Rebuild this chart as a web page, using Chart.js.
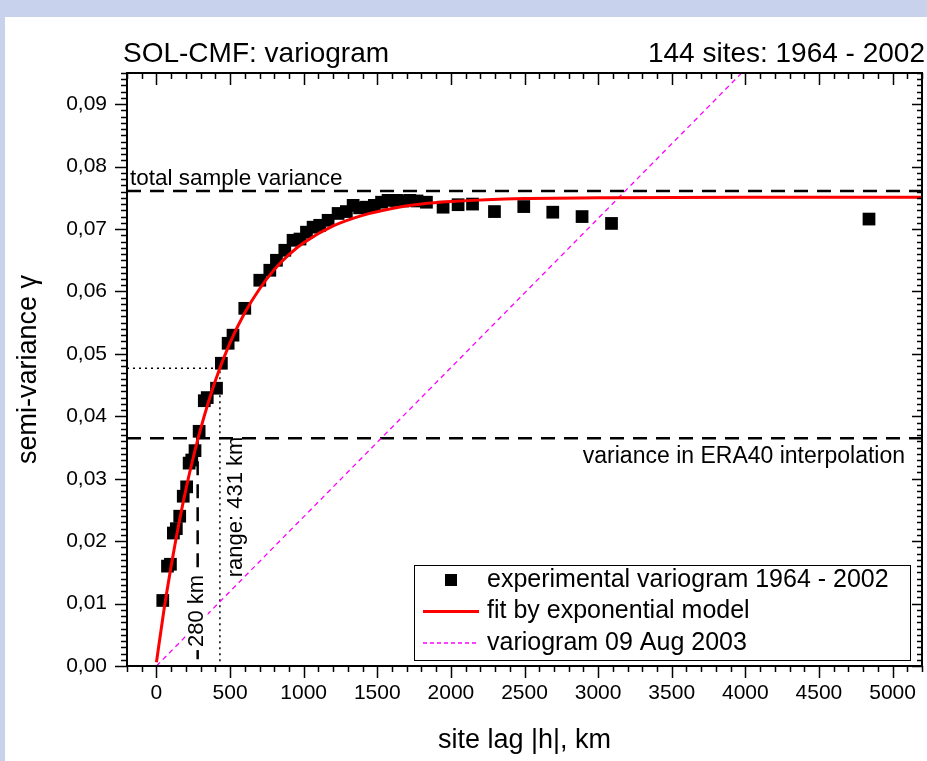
<!DOCTYPE html>
<html>
<head>
<meta charset="utf-8">
<script src="https://cdn.jsdelivr.net/npm/chart.js@4/dist/chart.umd.min.js"></script>
<style>
  html, body { margin: 0; padding: 0; background: #fff; }
</style>
</head>
<body>
<canvas id="myChart" width="927" height="761"></canvas>
<script>
// experimental variogram 1964 - 2002 (lag in km, semi-variance)
const lagKm = [43, 75, 95, 115, 135, 158, 182, 205, 222, 240, 262, 290, 325, 345, 408, 441, 487, 520, 600,
  702, 770, 815, 872, 928, 975, 1019, 1064, 1109, 1166, 1234, 1290, 1336, 1380, 1427, 1480, 1529, 1573,
  1630, 1675, 1721, 1770, 1834, 1947, 2049, 2147, 2296, 2495, 2692, 2891, 3091, 4840];
const gammaExp = [0.0105, 0.0160, 0.0163, 0.0213, 0.0220, 0.0240, 0.0272, 0.0287, 0.0325, 0.0330, 0.0345, 0.0376,
  0.0425, 0.0430, 0.0445, 0.0485, 0.0517, 0.0530, 0.0573, 0.0618, 0.0634, 0.0650, 0.0666, 0.0682, 0.0684,
  0.0695, 0.0703, 0.0706, 0.0714, 0.0725, 0.0728, 0.0738, 0.0734, 0.0735, 0.0738, 0.0743, 0.0746, 0.0746,
  0.0745, 0.0746, 0.0745, 0.0743, 0.0735, 0.0739, 0.0740, 0.0728, 0.0736, 0.0727, 0.0720, 0.0709, 0.0716];

// fit by exponential model
const fitKm = [0, 50, 100, 150, 200, 250, 300, 400, 500, 600, 700, 800, 900, 1000, 1200, 1400, 1600, 1800,
  2000, 2500, 3000, 4000, 5200];
const fitGamma = [0.0006, 0.0088, 0.0160, 0.0225, 0.0283, 0.0334, 0.0380, 0.0457, 0.0518, 0.0566, 0.0604,
  0.0635, 0.0659, 0.0678, 0.0705, 0.0722, 0.0733, 0.0740, 0.0744, 0.0749, 0.0750, 0.0751, 0.0751];

// variogram 09 Aug 2003
const augKm = [0, 4000];
const augGamma = [0, 0.0956];

const totalVariance = 0.0761;
const era40Variance = 0.0365;
const rangeKm = 431;
const rangeGamma = 0.0477;
const era40Km = 280;

const xTicks = [0, 500, 1000, 1500, 2000, 2500, 3000, 3500, 4000, 4500, 5000];
const yTicks = [0, 0.01, 0.02, 0.03, 0.04, 0.05, 0.06, 0.07, 0.08, 0.09];
const xMin = -200, xMax = 5200, yMin = 0, yMax = 0.095;

const FONT = '"Liberation Sans", Arial, sans-serif';
const pts = (xs, ys) => xs.map((v, i) => ({ x: v, y: ys[i] }));

const legendItems = [
  { text: 'experimental variogram 1964 - 2002', kind: 'square' },
  { text: 'fit by exponential model', kind: 'red' },
  { text: 'variogram 09 Aug 2003', kind: 'magenta' }
];

const frame = {
  id: 'frame',
  beforeDraw(chart) {
    const c = chart.ctx;
    c.save();
    c.fillStyle = '#c9d2ec';
    c.fillRect(0, 0, chart.width, chart.height);
    c.fillStyle = '#ffffff';
    c.fillRect(5, 17, chart.width - 5, chart.height - 17);
    c.restore();
  },
  afterDatasetsDraw(chart) {
    const { ctx: c, chartArea: a, scales: { x, y } } = chart;
    c.save();
    c.strokeStyle = '#000';

    // minor / major ticks on all four sides
    c.lineWidth = 1.5;
    for (let v = xMin; v <= xMax; v += 100) {
      const px = Math.round(x.getPixelForValue(v)) + 0.5;
      const major = v % 500 === 0;
      c.beginPath();
      c.moveTo(px, a.bottom); c.lineTo(px, a.bottom + (major ? 12 : 6));
      c.moveTo(px, a.top); c.lineTo(px, a.top + (major ? 12 : 6));
      c.stroke();
    }
    for (let i = 0; i <= 95; i++) {
      const py = Math.round(y.getPixelForValue(i / 1000)) + 0.5;
      const major = i % 10 === 0;
      c.beginPath();
      c.moveTo(a.left, py); c.lineTo(a.left - (major ? 12 : 6), py);
      c.moveTo(a.right, py); c.lineTo(a.right - (major ? 10 : 5), py);
      c.stroke();
    }
    c.lineWidth = 2;
    c.strokeRect(a.left, a.top, a.right - a.left, a.bottom - a.top);

    // titles
    c.fillStyle = '#000';
    c.textBaseline = 'middle';
    c.font = '28px ' + FONT;
    c.textAlign = 'left';
    c.fillText('SOL-CMF: variogram', 123, 54);
    c.textAlign = 'right';
    c.fillText('144 sites: 1964 - 2002', 925, 54);

    // line annotations
    c.font = '22.5px ' + FONT;
    c.textAlign = 'left';
    c.fillText('total sample variance', a.left + 3, y.getPixelForValue(totalVariance) - 12);
    c.font = '23px ' + FONT;
    c.textAlign = 'right';
    c.fillText('variance in ERA40 interpolation', a.right - 17, y.getPixelForValue(era40Variance) + 18);

    c.font = '22px ' + FONT;
    c.textAlign = 'center';
    let px = x.getPixelForValue(era40Km) - 1;
    c.save();
    c.translate(px, 611);
    c.rotate(-Math.PI / 2);
    const w = c.measureText('280 km').width;
    c.fillStyle = '#fff';
    c.fillRect(-w / 2 - 3, -11, w + 6, 22);
    c.fillStyle = '#000';
    c.fillText('280 km', 0, 0);
    c.restore();
    px = x.getPixelForValue(rangeKm) + 16;
    c.save();
    c.translate(px, 507);
    c.rotate(-Math.PI / 2);
    c.fillText('range: 431 km', 0, 0);
    c.restore();

    // legend box
    const lx = 414, ly = 565, lw = a.right - 12 - lx, lh = a.bottom - 6 - ly;
    c.fillStyle = '#fff';
    c.fillRect(lx, ly, lw, lh);
    c.lineWidth = 1;
    c.strokeStyle = '#000';
    c.strokeRect(lx + 0.5, ly + 0.5, lw, lh);
    c.font = '25px ' + FONT;
    c.textAlign = 'left';
    legendItems.forEach((it, i) => {
      const cy = ly + 15 + i * 31.5;
      if (it.kind === 'square') {
        c.fillStyle = '#000';
        c.fillRect(445, cy - 6, 12, 12);
      } else if (it.kind === 'red') {
        c.strokeStyle = '#ff0000';
        c.lineWidth = 3;
        c.setLineDash([]);
        c.beginPath(); c.moveTo(423, cy); c.lineTo(479, cy); c.stroke();
      } else {
        c.strokeStyle = '#ff00ff';
        c.lineWidth = 1.3;
        c.setLineDash([4, 3]);
        c.beginPath(); c.moveTo(423, cy); c.lineTo(479, cy); c.stroke();
        c.setLineDash([]);
      }
      c.fillStyle = '#000';
      c.fillText(it.text, 487, cy);
    });
    c.restore();
  }
};

const ctx = document.getElementById('myChart').getContext('2d');
new Chart(ctx, {
  type: 'scatter',
  plugins: [frame],
  data: {
    datasets: [
      {
        label: 'fit by exponential model',
        data: pts(fitKm, fitGamma),
        showLine: true,
        borderColor: '#ff0000',
        borderWidth: 3,
        pointRadius: 0,
        cubicInterpolationMode: 'monotone'
      },
      {
        label: 'experimental variogram 1964 - 2002',
        data: pts(lagKm, gammaExp),
        pointStyle: 'rect',
        pointRadius: 9,
        pointHoverRadius: 9,
        backgroundColor: '#000',
        borderWidth: 0
      },
      {
        label: 'variogram 09 Aug 2003',
        data: pts(augKm, augGamma),
        showLine: true,
        borderColor: '#ff00ff',
        backgroundColor: '#ff00ff',
        borderWidth: 1.3,
        borderDash: [5, 4],
        pointRadius: 0
      },
      {
        label: 'total sample variance',
        data: pts([xMin, xMax], [totalVariance, totalVariance]),
        showLine: true, borderColor: '#000', borderWidth: 2.5, borderDash: [14, 9], pointRadius: 0
      },
      {
        label: 'variance in ERA40 interpolation',
        data: pts([xMin, xMax], [era40Variance, era40Variance]),
        showLine: true, borderColor: '#000', borderWidth: 2.5, borderDash: [14, 9], pointRadius: 0
      },
      {
        label: '280 km',
        data: pts([era40Km, era40Km], [era40Variance, 0]),
        showLine: true, borderColor: '#000', borderWidth: 2.5, borderDash: [14, 9], pointRadius: 0
      },
      {
        label: 'range',
        data: pts([xMin, rangeKm, rangeKm], [rangeGamma, rangeGamma, 0]),
        showLine: true, borderColor: '#000', borderWidth: 1.5, borderDash: [2, 4], pointRadius: 0
      }
    ]
  },
  options: {
    responsive: false,
    animation: false,
    devicePixelRatio: 1,
    layout: { autoPadding: false, padding: { left: 0, right: 5, top: 73, bottom: 0 } },
    plugins: {
      legend: { display: false },
      tooltip: { enabled: false }
    },
    scales: {
      x: {
        type: 'linear',
        min: xMin, max: xMax,
        afterFit: s => { s.height = 95; s.paddingLeft = 0; s.paddingRight = 0; },
        afterBuildTicks: s => { s.ticks = xTicks.map(v => ({ value: v })); },
        grid: { display: false, drawTicks: false },
        border: { display: false },
        ticks: { color: '#000', padding: 15, maxRotation: 0, autoSkip: false, font: { family: FONT, size: 21 },
          callback: v => String(v) },
        title: { display: true, text: 'site lag |h|, km', color: '#000', padding: { top: 0, bottom: 4 }, font: { family: FONT, size: 27 } }
      },
      y: {
        type: 'linear',
        min: yMin, max: yMax,
        afterFit: s => { s.width = 127; s.paddingTop = 0; s.paddingBottom = 0; },
        afterBuildTicks: s => { s.ticks = yTicks.map(v => ({ value: v })); },
        grid: { display: false, drawTicks: false },
        border: { display: false },
        ticks: { color: '#000', padding: 20, autoSkip: false, font: { family: FONT, size: 21 },
          callback: v => v.toFixed(2).replace('.', ',') },
        title: { display: true, text: 'semi-variance γ', color: '#000', padding: { top: 12, bottom: 0 }, font: { family: FONT, size: 27 } }
      }
    }
  }
});
</script>
</body>
</html>
